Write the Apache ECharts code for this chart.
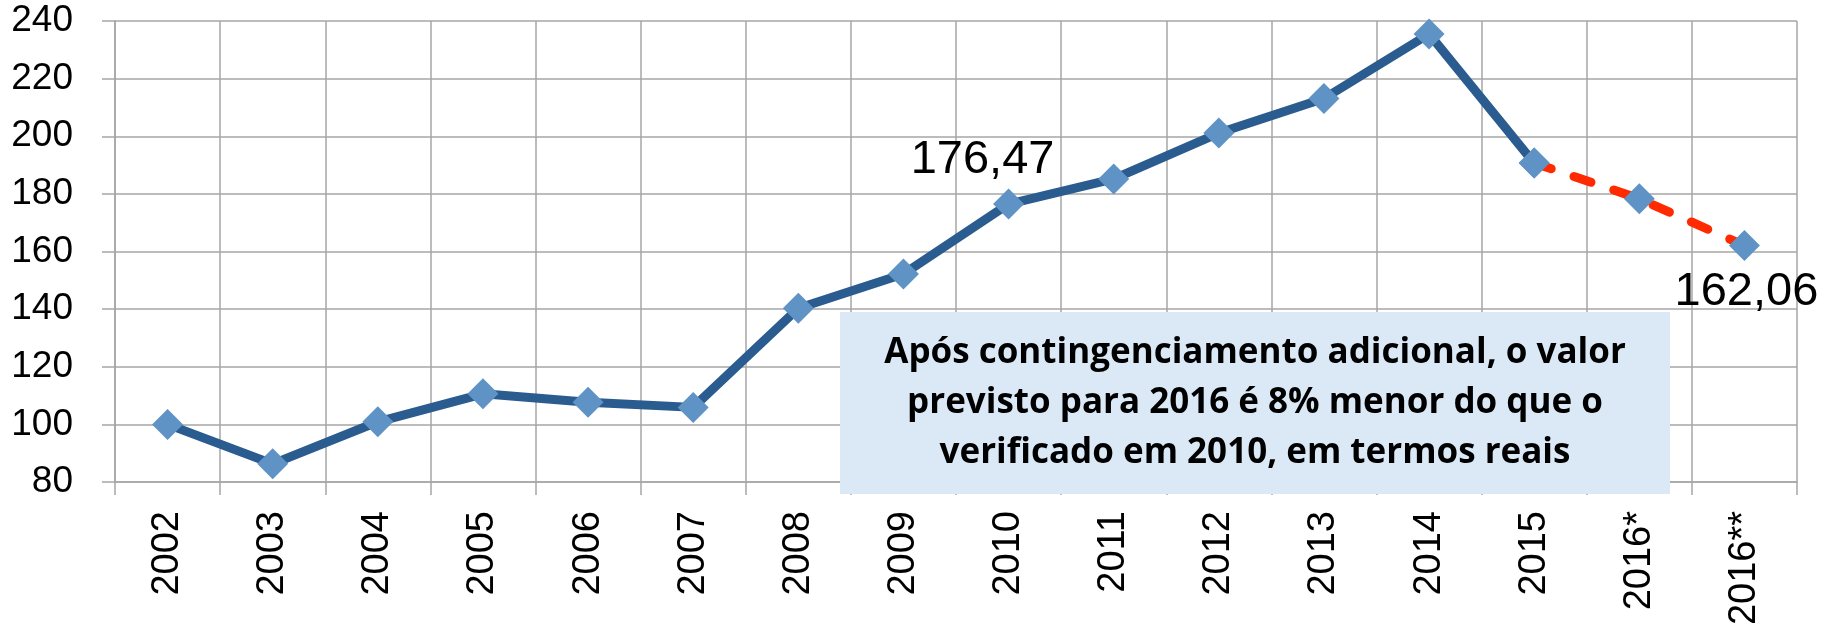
<!DOCTYPE html>
<html><head><meta charset="utf-8">
<script src="https://cdn.jsdelivr.net/npm/echarts@6/dist/echarts.min.js"></script>
<style>html,body{margin:0;padding:0;background:#fff}#c{width:1825px;height:638px}</style>
</head><body><div id="c"></div>
<script>
const categories = ['2002','2003','2004','2005','2006','2007','2008','2009','2010','2011','2012','2013','2014','2015','2016*','2016**'];
const values = [100, 86.3, 100.9, 110.6, 107.7, 105.9, 140.3, 152.2, 176.47, 185.2, 201.1, 213.1, 235.5, 190.7, 178.3, 162.06];
const lastActualCategory = '2015';
const labelledCategories = ['2010', '2016**'];
const yMin = 80, yMax = 240, yStep = 20;
const noteLines = ['Após contingenciamento adicional, o valor', 'previsto para 2016 é 8% menor do que o', 'verificado em 2010, em termos reais'];

const splitIdx = categories.indexOf(lastActualCategory);
const fmt = v => String(v).replace('.', ',');
const labelStyle = {
  '2010': {position: 'top', offset: [-26, 0]},
  '2016**': {position: 'bottom', offset: [2, 2]}
};
function item(i) {
  const c = categories[i];
  if (labelledCategories.includes(c)) {
    return {value: values[i], label: Object.assign({show: true, formatter: p => fmt(p.value), fontFamily: 'Liberation Sans', fontSize: 47, color: '#000'}, labelStyle[c])};
  }
  return values[i];
}
const actualData = values.map((v, i) => i <= splitIdx ? item(i) : null);
const forecastData = values.map((v, i) => i >= splitIdx ? item(i) : null);
if (labelledCategories.includes(lastActualCategory)) forecastData[splitIdx] = values[splitIdx];

const gridColor = '#a6a6a6';
const chart = echarts.init(document.getElementById('c'), null, {renderer: 'canvas'});
chart.setOption({
  animation: false,
  backgroundColor: '#fff',
  grid: {left: 115, right: 28, top: 21, bottom: 156, containLabel: false, outerBoundsMode: 'none'},
  xAxis: {
    type: 'category', data: categories, boundaryGap: true,
    axisLine: {show: true, lineStyle: {color: gridColor, width: 1.5}},
    axisTick: {show: true, length: 13, interval: 0, alignWithLabel: false, lineStyle: {color: gridColor, width: 1.5}},
    splitLine: {show: true, interval: 0, lineStyle: {color: gridColor, width: 1.5}},
    axisLabel: {show: true, interval: 0, rotate: 90, margin: 29, fontFamily: 'Liberation Sans', fontSize: 38, color: '#000', hideOverlap: false}
  },
  yAxis: {
    type: 'value', min: yMin, max: yMax, interval: yStep,
    axisLine: {show: true, lineStyle: {color: gridColor, width: 1.5}},
    axisTick: {show: true, length: 13, inside: false, lineStyle: {color: gridColor, width: 1.5}},
    splitLine: {show: true, lineStyle: {color: gridColor, width: 1.5}},
    axisLabel: {show: true, margin: 42, fontFamily: 'Liberation Sans', fontSize: 37, color: '#000', padding: [9, 0, 0, 0]}
  },
  series: [
    {
      type: 'line', data: actualData, connectNulls: false, z: 3,
      symbol: 'diamond', symbolSize: 31, showSymbol: true,
      lineStyle: {color: '#2b5c8f', width: 9},
      itemStyle: {color: '#5f93c6', borderWidth: 0},
      label: {show: false}
    },
    {
      type: 'line', data: forecastData, connectNulls: false, z: 4,
      symbol: 'diamond', symbolSize: 31, showSymbol: true,
      lineStyle: {color: '#ff2a00', width: 9, type: [18, 24], cap: 'round'},
      itemStyle: {color: '#5f93c6', borderWidth: 0},
      label: {show: false}
    }
  ],
  graphic: [
    {type: 'rect', left: 840, top: 312, shape: {width: 830, height: 182}, style: {fill: '#dbe9f7'}, z: 10},
    {type: 'text', x: 1255, y: 403, z: 11, style: {
      text: noteLines.join('\n'), align: 'center', verticalAlign: 'middle',
      font: 'bold 35px "Open Sans"', lineHeight: 50, fill: '#000'
    }}
  ]
});
</script></body></html>
